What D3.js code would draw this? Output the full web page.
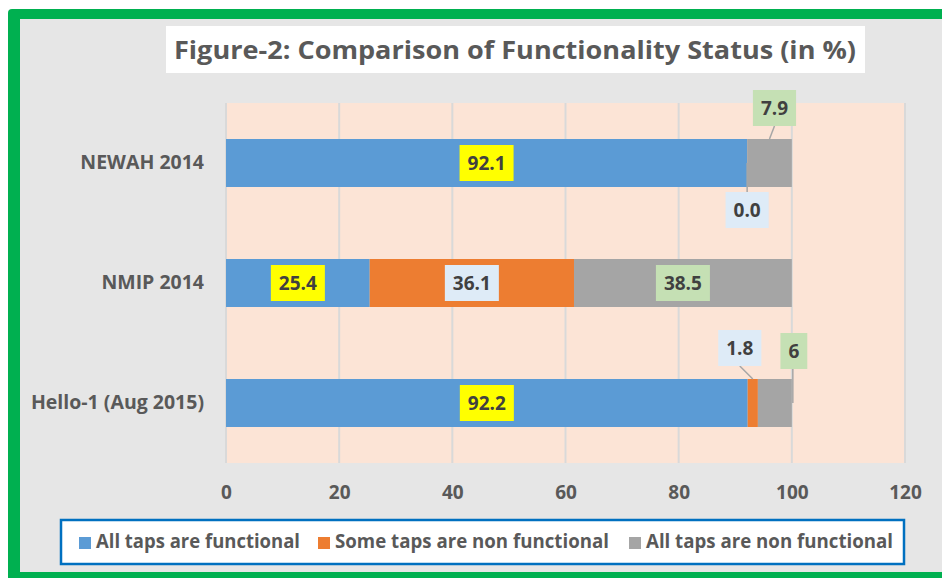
<!DOCTYPE html>
<html>
<head>
<meta charset="utf-8">
<script src="https://cdn.jsdelivr.net/npm/d3@7"></script>
<style>
  html, body { margin: 0; padding: 0; background: #ffffff; }
  svg { display: block; }
  text { font-family: "Open Sans", "DejaVu Sans", sans-serif; font-weight: 700; }
</style>
</head>
<body>
<svg id="chart" width="942" height="578"></svg>
<script>
// ---- data ----
const categories = ["NEWAH 2014", "NMIP 2014", "Hello-1 (Aug 2015)"];
const seriesNames = ["All taps are functional", "Some taps are non functional", "All taps are non functional"];
const allFunctional = [92.1, 25.4, 92.2];
const someNonFunctional = [0.0, 36.1, 1.8];
const allNonFunctional = [7.9, 38.5, 6];
const labelText = [["92.1", "0.0", "7.9"], ["25.4", "36.1", "38.5"], ["92.2", "1.8", "6"]];
const xTicks = [0, 20, 40, 60, 80, 100, 120];
const titleText = "Figure-2: Comparison of Functionality Status (in %)";

// ---- styles ----
const colors = ["#5b9bd5", "#ed7d31", "#a5a5a5"];
const labelFills = ["#ffff00", "#deebf7", "#c5e0b4"];
// manual data label placements (offset from segment centre), leader target
const labelPlace = {
  "0-1": { dx: 0, dy: 47, leader: "mid" },
  "0-2": { dx: 5, dy: -55, leader: "top" },
  "2-1": { dx: -13, dy: -55, leader: "top" },
  "2-2": { dx: 19, dy: -52, leader: "endmid" }
};

const svg = d3.select("#chart");

// frame
svg.append("rect").attr("x", 8).attr("y", 9).attr("width", 960).attr("height", 600)
  .attr("rx", 4).attr("fill", "#00b050");
svg.append("rect").attr("x", 20).attr("y", 19).attr("width", 940).attr("height", 553)
  .attr("fill", "#e6e6e6");

// title
svg.append("rect").attr("x", 166).attr("y", 26).attr("width", 699).attr("height", 47).attr("fill", "#ffffff");
svg.append("text").attr("x", 174).attr("y", 59)
  .attr("font-size", 25).attr("fill", "#595959")
  .attr("textLength", 682).attr("lengthAdjust", "spacingAndGlyphs")
  .text(titleText);

// scales
const plot = { left: 226, right: 905, top: 103, bottom: 463 };
const x = d3.scaleLinear().domain([0, 120]).range([plot.left, plot.right]);
const y = d3.scaleBand().domain(categories).range([plot.top, plot.bottom])
  .paddingInner(0.6).paddingOuter(0.3);

// plot background
svg.append("rect").attr("x", plot.left).attr("y", plot.top)
  .attr("width", plot.right - plot.left).attr("height", plot.bottom - plot.top)
  .attr("fill", "#fce4d6");

// gridlines
svg.append("g").selectAll("line").data(xTicks).join("line")
  .attr("x1", d => x(d)).attr("x2", d => x(d))
  .attr("y1", plot.top).attr("y2", plot.bottom)
  .attr("stroke", "#d9d9d9").attr("stroke-width", 2);

// stacked data
const rows = categories.map((c, i) => ({ cat: c, vals: [allFunctional[i], someNonFunctional[i], allNonFunctional[i]] }));
const stack = d3.stack().keys([0, 1, 2]).value((d, k) => d.vals[k]);
const stacked = stack(rows);

const gBars = svg.append("g");
stacked.forEach((layer, k) => {
  gBars.selectAll(null).data(layer).join("rect")
    .attr("x", d => x(d[0]))
    .attr("width", d => Math.max(0, x(d[1]) - x(d[0])))
    .attr("y", d => y(d.data.cat))
    .attr("height", y.bandwidth())
    .attr("fill", colors[k]);
});

// axes
const xAxis = svg.append("g").attr("transform", `translate(0,${plot.bottom})`)
  .call(d3.axisBottom(x).tickValues(xTicks).tickSize(0).tickFormat(d3.format("d")));
xAxis.select(".domain").remove();
xAxis.selectAll("text").attr("y", 36).attr("dy", 0)
  .attr("font-size", 19).attr("fill", "#595959")
  .style("font-family", '"Open Sans", sans-serif').style("font-weight", 700);

const yAxis = svg.append("g").attr("transform", `translate(${plot.left},0)`)
  .call(d3.axisLeft(y).tickSize(0).tickPadding(22));
yAxis.select(".domain").remove();
yAxis.selectAll("text").attr("dy", "0.31em")
  .attr("font-size", 19.5).attr("fill", "#595959")
  .style("font-family", '"Open Sans", sans-serif').style("font-weight", 700);

// data labels
const gLab = svg.append("g");
const boxH = 36;
stacked.forEach((layer, k) => {
  layer.forEach((d, i) => {
    const segCx = (x(d[0]) + x(d[1])) / 2;
    const barTop = y(d.data.cat);
    const barMid = barTop + y.bandwidth() / 2;
    const place = labelPlace[`${i}-${k}`] || { dx: 0, dy: 0 };
    const cx = segCx + place.dx, cy = barMid + place.dy;
    const g = gLab.append("g");
    const rect = g.append("rect").attr("fill", labelFills[k]);
    const t = g.append("text").attr("x", cx).attr("y", cy).attr("dy", "0.36em")
      .attr("text-anchor", "middle").attr("font-size", 19).attr("fill", "#404040")
      .text(labelText[i][k]);
    const w = t.node().getComputedTextLength() + 16;
    rect.attr("x", cx - w / 2).attr("y", cy - boxH / 2).attr("width", w).attr("height", boxH);
    if (place.leader) {
      let sx, sy, tx, ty;
      if (place.dy > 0) { sx = cx; sy = cy - boxH / 2; } else { sx = cx; sy = cy + boxH / 2; }
      if (place.leader === "top") { tx = segCx; ty = barTop; }
      else if (place.leader === "mid") { tx = segCx; ty = barMid; }
      else { tx = x(d[1]) + 1; ty = barMid; sx = tx; }
      gLab.insert("line", ":first-child").attr("x1", sx).attr("y1", sy).attr("x2", tx).attr("y2", ty)
        .attr("stroke", "#a6a6a6").attr("stroke-width", 1.5);
    }
  });
});

// legend
svg.append("rect").attr("x", 61).attr("y", 520).attr("width", 843).attr("height", 44)
  .attr("fill", "#ffffff").attr("stroke", "#0070c0").attr("stroke-width", 2.5);
const legendX = [79, 318, 629];
const legendW = [204, 274, 247];
seriesNames.forEach((name, k) => {
  svg.append("rect").attr("x", legendX[k]).attr("y", 537).attr("width", 12).attr("height", 12).attr("fill", colors[k]);
  svg.append("text").attr("x", legendX[k] + 17).attr("y", 548)
    .attr("font-size", 19).attr("fill", "#595959")
    .attr("textLength", legendW[k]).attr("lengthAdjust", "spacingAndGlyphs")
    .text(name);
});
</script>
</body>
</html>
